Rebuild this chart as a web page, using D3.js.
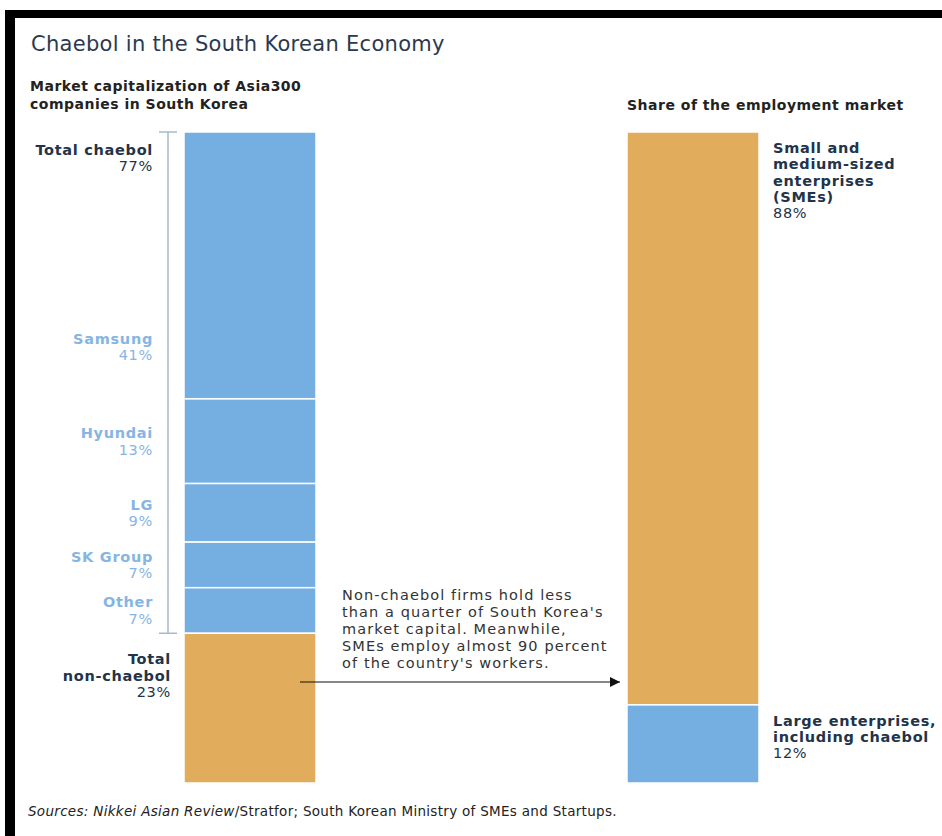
<!DOCTYPE html>
<html>
<head>
<meta charset="utf-8">
<script src="https://cdn.jsdelivr.net/npm/d3@7"></script>
<style>
  body { margin: 0; background: #fff; }
  text { font-family: "DejaVu Sans", sans-serif; }
</style>
</head>
<body>
<div id="chart"></div>
<script>
// market cap of Asia300 companies in South Korea (%)
const chaebolGroups = ["Samsung", "Hyundai", "LG", "SK Group", "Other"];
const chaebolShares = [41, 13, 9, 7, 7];
const nonChaebolShare = 23;

// share of the employment market (%)
const employmentLabels = [
  ["Small and", "medium-sized", "enterprises", "(SMEs)"],
  ["Large enterprises,", "including chaebol"]
];
const employmentShares = [88, 12];
const employmentColors = ["orange", "blue"];

const note = [
  "Non-chaebol firms hold less",
  "than a quarter of South Korea's",
  "market capital. Meanwhile,",
  "SMEs employ almost 90 percent",
  "of the country's workers."
];

const width = 942, height = 836;
const blue = "#75aee1", orange = "#e1ad5c";
const navy = "#22334a", lightBlue = "#86b5e4";

const svg = d3.select("#chart").append("svg")
  .attr("width", width)
  .attr("height", height);

// black frame on top and left, as in the screenshot
svg.append("rect").attr("x", 5).attr("y", 10).attr("width", width - 5).attr("height", 8).attr("fill", "#000");
svg.append("rect").attr("x", 5).attr("y", 10).attr("width", 10).attr("height", height - 10).attr("fill", "#000");

svg.append("text")
  .attr("x", 31).attr("y", 51)
  .attr("font-size", 21).attr("letter-spacing", 0.3)
  .attr("fill", "#2b3a4e")
  .text("Chaebol in the South Korean Economy");

svg.append("g")
  .selectAll("text")
  .data(["Market capitalization of Asia300", "companies in South Korea"])
  .enter().append("text")
  .attr("x", 30).attr("y", (d, i) => 91 + i * 18)
  .attr("font-size", 14).attr("letter-spacing", 0.5)
  .attr("font-weight", "bold").attr("fill", "#222")
  .text(d => d);

svg.append("text")
  .attr("x", 627).attr("y", 110)
  .attr("font-size", 14).attr("letter-spacing", 0.5)
  .attr("font-weight", "bold").attr("fill", "#222")
  .text("Share of the employment market");

const y = d3.scaleLinear().domain([0, 100]).range([132, 783]);
const xLeft = d3.scaleBand().domain(["cap"]).range([184, 316]);
const xRight = d3.scaleBand().domain(["emp"]).range([627, 759]);

// left bar: stacked chaebol groups then non-chaebol
const leftSegs = [];
let acc = 0;
chaebolGroups.forEach((g, i) => {
  leftSegs.push({ name: g, value: chaebolShares[i], y0: acc, y1: acc + chaebolShares[i], color: blue });
  acc += chaebolShares[i];
});
const chaebolTotal = acc;
leftSegs.push({ name: "Total non-chaebol", value: nonChaebolShare, y0: acc, y1: acc + nonChaebolShare, color: orange });

svg.append("g")
  .selectAll("rect")
  .data(leftSegs)
  .enter().append("rect")
  .attr("x", xLeft("cap"))
  .attr("width", xLeft.bandwidth())
  .attr("y", d => y(d.y0))
  .attr("height", d => y(d.y1) - y(d.y0))
  .attr("fill", d => d.color)
  .attr("stroke", "#fff")
  .attr("stroke-width", 1.5);

// bracket for total chaebol
const br = svg.append("g").attr("stroke", "#a9b8ca").attr("stroke-width", 1.5);
br.append("line").attr("x1", 168).attr("x2", 168).attr("y1", y(0)).attr("y2", y(chaebolTotal));
br.append("line").attr("x1", 159).attr("x2", 177).attr("y1", y(0)).attr("y2", y(0));
br.append("line").attr("x1", 159).attr("x2", 177).attr("y1", y(chaebolTotal)).attr("y2", y(chaebolTotal));

function label(g, x, yTop, lines, pct, color, anchor) {
  const t = g.append("text").attr("text-anchor", anchor)
    .attr("font-size", 14.5).attr("letter-spacing", 0.7).attr("fill", color);
  lines.forEach((l, i) => {
    t.append("tspan").attr("x", x).attr("y", yTop + i * 16.3).attr("font-weight", "bold").text(l);
  });
  t.append("tspan").attr("x", x).attr("y", yTop + lines.length * 16.3).text(pct + "%");
}

const labels = svg.append("g");
label(labels, 153, y(0) + 23, ["Total chaebol"], chaebolTotal, navy, "end");

leftSegs.slice(0, chaebolGroups.length).forEach((d, i) => {
  let mid = (y(d.y0) + y(d.y1)) / 2;
  // the biggest segment keeps its label clear of the total label
  if (i === 0) mid = y(d.y1) - 52;
  label(labels, 153, mid - 3, [d.name], d.value, lightBlue, "end");
});

label(labels, 171, y(chaebolTotal) + 31, ["Total", "non-chaebol"], nonChaebolShare, navy, "end");

// right bar
const rightSegs = [];
acc = 0;
employmentShares.forEach((v, i) => {
  rightSegs.push({ lines: employmentLabels[i], value: v, y0: acc, y1: acc + v, color: employmentColors[i] === "blue" ? blue : orange });
  acc += v;
});

svg.append("g")
  .selectAll("rect")
  .data(rightSegs)
  .enter().append("rect")
  .attr("x", xRight("emp"))
  .attr("width", xRight.bandwidth())
  .attr("y", d => y(d.y0))
  .attr("height", d => y(d.y1) - y(d.y0))
  .attr("fill", d => d.color)
  .attr("stroke", "#fff")
  .attr("stroke-width", 1.5);

rightSegs.forEach(d => {
  label(labels, 773, y(d.y0) + 21, d.lines, d.value, navy, "start");
});

// annotation and arrow
svg.append("g")
  .selectAll("text")
  .data(note)
  .enter().append("text")
  .attr("x", 342).attr("y", (d, i) => 600 + i * 17)
  .attr("font-size", 14.5).attr("letter-spacing", 1.1).attr("fill", "#333")
  .text(d => d);

svg.append("defs").append("marker")
  .attr("id", "arrow")
  .attr("viewBox", "0 0 10 10")
  .attr("refX", 10).attr("refY", 5)
  .attr("markerWidth", 10).attr("markerHeight", 10)
  .attr("markerUnits", "userSpaceOnUse")
  .attr("orient", "auto")
  .append("path").attr("d", "M0,0L10,5L0,10Z").attr("fill", "#111");

svg.append("line")
  .attr("x1", 300).attr("x2", 620)
  .attr("y1", 682).attr("y2", 682)
  .attr("stroke", "#111").attr("stroke-width", 1.2)
  .attr("marker-end", "url(#arrow)");

const src = svg.append("text").attr("x", 28).attr("y", 816)
  .attr("font-size", 13.5).attr("letter-spacing", 0.3).attr("fill", "#222");
src.append("tspan").attr("font-style", "italic").text("Sources: Nikkei Asian Review");
src.append("tspan").text("/Stratfor; South Korean Ministry of SMEs and Startups.");
</script>
</body>
</html>
